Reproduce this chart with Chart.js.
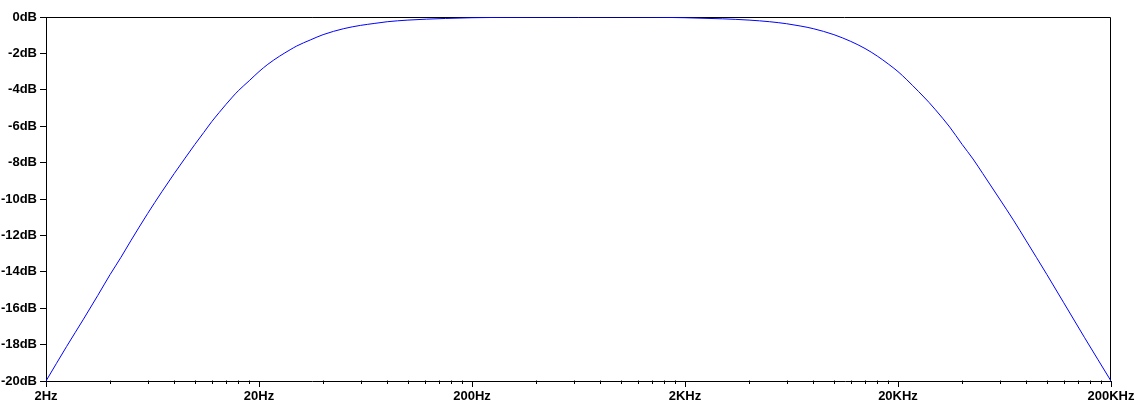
<!DOCTYPE html>
<html>
<head>
<meta charset="utf-8">
<script src="https://cdn.jsdelivr.net/npm/chart.js@4"></script>
<style>
  html, body { margin: 0; padding: 0; background: #fff; }
  #wrap { width: 1137px; height: 407px; }
</style>
</head>
<body>
<div id="wrap"><canvas id="bode"></canvas></div>
<script>
// frequencies (Hz) and gain (dB)
const freqs = [2, 2.5, 3, 3.5, 4, 4.5, 5, 6, 7, 8, 9, 10, 11, 12, 13, 14, 15, 16, 18, 20, 22, 25, 28, 30, 35, 40, 50, 60, 70, 80, 100, 150, 200, 400, 1000,
  2000, 3000, 4000, 5000, 6000, 7000, 8000, 10000, 12000, 14000, 16000, 18000, 20000, 22000, 25000, 28000, 30000, 35000, 40000, 45000, 50000, 60000, 70000,
  80000, 100000, 120000, 150000, 200000];
const gainDb = [-20.0, -18.1, -16.6, -15.3, -14.15, -13.2, -12.3, -10.8, -9.6, -8.6, -7.75, -7.0, -6.35, -5.75, -5.25, -4.8, -4.4, -4.05, -3.5, -3.0, -2.6, -2.15, -1.8, -1.6, -1.25, -0.97, -0.64, -0.46, -0.35, -0.26, -0.17, -0.08, -0.04, -0.01, 0,
  -0.04, -0.1, -0.17, -0.26, -0.37, -0.5, -0.64, -0.97, -1.34, -1.73, -2.15, -2.58, -3.0, -3.45, -4.1, -4.7, -5.1, -6.05, -7.0, -7.8, -8.6, -10.0, -11.2,
  -12.3, -14.15, -15.7, -17.6, -20.0];
const decadeLabels = ['2Hz', '20Hz', '200Hz', '2KHz', '20KHz', '200KHz'];
const decades = [2, 20, 200, 2000, 20000, 200000];
const yTicks = [0, -2, -4, -6, -8, -10, -12, -14, -16, -18, -20];

const points = freqs.map((f, i) => ({ x: f, y: gainDb[i] }));

// tick positions: 2,4,...,18 in every decade
const xTickValues = [];
decades.forEach((d, i) => {
  if (i === decades.length - 1) { xTickValues.push(d); return; }
  for (let k = 1; k <= 9; k++) xTickValues.push(d * k);
});

const font = { family: 'Liberation Sans', size: 13, weight: 'bold' };

// frame on top/right + short minor ticks on the x axis
const framePlugin = {
  id: 'frame',
  beforeDatasetsDraw(chart) {
    const { ctx, chartArea } = chart;
    const x = chart.scales.x;
    ctx.save();
    ctx.strokeStyle = '#000';
    ctx.lineWidth = 1;
    ctx.beginPath();
    const t = Math.round(chartArea.top) + 0.5;
    const r = Math.round(chartArea.right) - 0.5;
    const b = Math.round(chartArea.bottom) - 0.5;
    ctx.moveTo(Math.round(chartArea.left), t);
    ctx.lineTo(r, t);
    ctx.lineTo(r, b);
    xTickValues.forEach((v, i) => {
      if (i % 9 === 0) return;
      const px = Math.round(x.getPixelForValue(v)) + 0.5;
      ctx.moveTo(px, b);
      ctx.lineTo(px, b + 3.5);
    });
    ctx.stroke();
    ctx.restore();
  }
};

new Chart(document.getElementById('bode'), {
  type: 'line',
  data: {
    datasets: [{
      data: points,
      borderColor: '#0000ff',
      borderWidth: 1,
      pointRadius: 0,
      cubicInterpolationMode: 'monotone',
      fill: false
    }]
  },
  options: {
    responsive: true,
    maintainAspectRatio: false,
    animation: false,
    layout: { padding: { top: 17, right: 26, left: 0, bottom: 0 } },
    plugins: { legend: { display: false }, tooltip: { enabled: false } },
    scales: {
      x: {
        type: 'logarithmic',
        min: 2,
        max: 200000,
        afterBuildTicks: scale => { scale.ticks = xTickValues.map(v => ({ value: v })); },
        afterFit: scale => { scale.height = 26; },
        ticks: {
          autoSkip: false,
          maxRotation: 0,
          padding: 2,
          color: '#000',
          font: font,
          callback: (v, i) => (i % 9 === 0 ? decadeLabels[i / 9] : '')
        },
        grid: {
          display: true,
          drawOnChartArea: false,
          tickLength: 6,
          tickColor: c => (c.index % 9 === 0 ? '#000' : 'rgba(0,0,0,0)')
        },
        border: { color: '#000', width: 1 }
      },
      y: {
        type: 'linear',
        min: -20,
        max: 0,
        afterBuildTicks: scale => { scale.ticks = yTicks.map(v => ({ value: v })); },
        afterFit: scale => { scale.width = 46; },
        ticks: {
          padding: 3,
          color: '#000',
          font: font,
          callback: v => v + 'dB'
        },
        grid: { drawOnChartArea: false, tickLength: 6, tickColor: '#000' },
        border: { color: '#000', width: 1 }
      }
    }
  },
  plugins: [framePlugin]
});
</script>
</body>
</html>
